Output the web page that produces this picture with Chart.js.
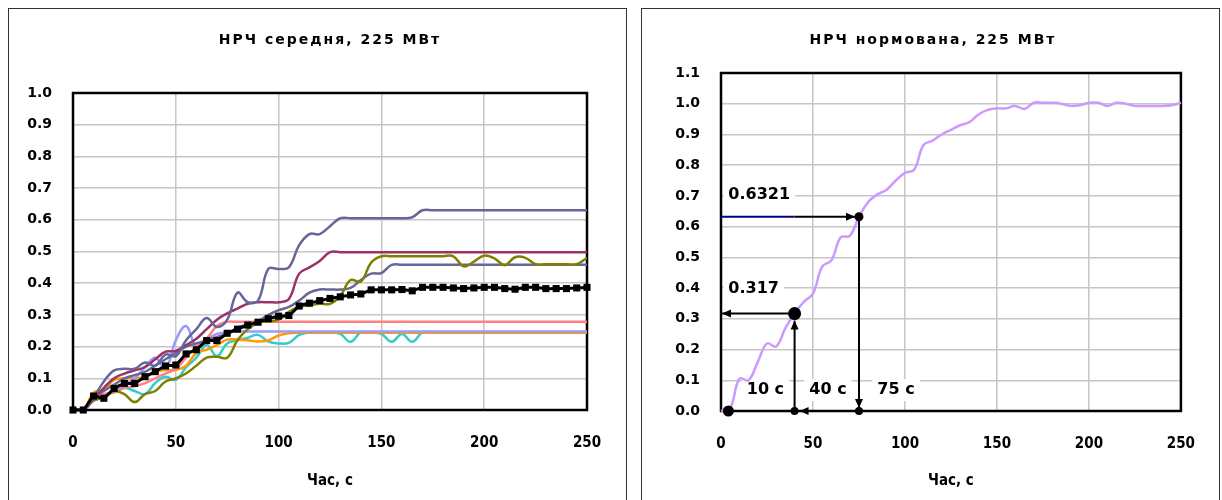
<!DOCTYPE html>
<html>
<head>
<meta charset="utf-8">
<script src="https://cdn.jsdelivr.net/npm/chart.js@4.4.1/dist/chart.umd.min.js"></script>
<style>
  html, body { margin: 0; padding: 0; background: #fff; overflow: hidden; }
  .panel { position: absolute; top: 8px; height: 520px; border: 1px solid #333; box-sizing: border-box; background: #fff; }
  #panelAvg { left: 8px; width: 619px; }
  #panelNorm { left: 641px; width: 579px; }
  canvas { position: absolute; left: 0; top: 0; }
</style>
</head>
<body>
<div class="panel" id="panelAvg"><canvas id="chartAvg" width="617" height="491"></canvas></div>
<div class="panel" id="panelNorm"><canvas id="chartNorm" width="577" height="491"></canvas></div>
<script>
// ---- time axis, s ----
const TIME_S = [0, 5, 10, 15, 20, 25, 30, 35, 40, 45, 50, 55, 60, 65, 70, 75, 80, 85, 90, 95,
  100, 105, 110, 115, 120, 125, 130, 135, 140, 145, 150, 155, 160, 165, 170, 175, 180, 185, 190, 195,
  200, 205, 210, 215, 220, 225, 230, 235, 240, 245, 250];

// ---- НРЧ середня: individual runs and their mean ----
const MEAN = [0, 0, 0.044, 0.037, 0.068, 0.084, 0.084, 0.105, 0.121, 0.139, 0.142, 0.177, 0.19, 0.219, 0.219, 0.242, 0.255, 0.268, 0.277, 0.288,
  0.296, 0.298, 0.328, 0.337, 0.345, 0.352, 0.357, 0.363, 0.366, 0.379, 0.379, 0.379, 0.38, 0.376, 0.387, 0.387, 0.387, 0.385, 0.383, 0.385,
  0.387, 0.387, 0.383, 0.381, 0.387, 0.387, 0.383, 0.383, 0.383, 0.385, 0.387];
const RUN_1 = [0, 0, 0.04, 0.09, 0.125, 0.13, 0.13, 0.15, 0.14, 0.175, 0.17, 0.22, 0.255, 0.29, 0.262, 0.285, 0.37, 0.34, 0.345, 0.445,
  0.445, 0.45, 0.52, 0.555, 0.555, 0.58, 0.605, 0.605, 0.605, 0.605, 0.605, 0.605, 0.605, 0.608, 0.63, 0.63, 0.63, 0.63, 0.63, 0.63,
  0.63, 0.63, 0.63, 0.63, 0.63, 0.63, 0.63, 0.63, 0.63, 0.63, 0.63];
const RUN_2 = [0, 0, 0.035, 0.07, 0.1, 0.115, 0.125, 0.135, 0.16, 0.184, 0.186, 0.205, 0.225, 0.255, 0.285, 0.305, 0.32, 0.335, 0.34, 0.34,
  0.34, 0.35, 0.43, 0.45, 0.47, 0.498, 0.498, 0.498, 0.498, 0.498, 0.498, 0.498, 0.498, 0.498, 0.498, 0.498, 0.498, 0.498, 0.498, 0.498,
  0.498, 0.498, 0.498, 0.498, 0.498, 0.498, 0.498, 0.498, 0.498, 0.498, 0.498];
const RUN_3 = [0, 0, 0.03, 0.04, 0.06, 0.05, 0.025, 0.05, 0.06, 0.09, 0.1, 0.115, 0.14, 0.165, 0.168, 0.165, 0.22, 0.255, 0.275, 0.28,
  0.285, 0.31, 0.325, 0.33, 0.335, 0.335, 0.36, 0.41, 0.405, 0.465, 0.485, 0.485, 0.485, 0.485, 0.485, 0.485, 0.485, 0.485, 0.453, 0.468,
  0.487, 0.478, 0.457, 0.482, 0.48, 0.46, 0.46, 0.46, 0.46, 0.46, 0.48];
const RUN_4 = [0, 0, 0.04, 0.06, 0.08, 0.1, 0.11, 0.12, 0.14, 0.16, 0.18, 0.2, 0.21, 0.22, 0.23, 0.24, 0.26, 0.27, 0.28, 0.3,
  0.315, 0.325, 0.345, 0.37, 0.38, 0.38, 0.38, 0.385, 0.41, 0.43, 0.432, 0.458, 0.458, 0.458, 0.458, 0.458, 0.458, 0.458, 0.458, 0.458,
  0.458, 0.458, 0.458, 0.458, 0.458, 0.458, 0.458, 0.458, 0.458, 0.458, 0.458];
const RUN_5 = [0, 0, 0.035, 0.05, 0.055, 0.07, 0.075, 0.085, 0.1, 0.115, 0.13, 0.165, 0.2, 0.225, 0.265, 0.278, 0.278, 0.278, 0.278, 0.278,
  0.278, 0.278, 0.278, 0.278, 0.278, 0.278, 0.278, 0.278, 0.278, 0.278, 0.278, 0.278, 0.278, 0.278, 0.278, 0.278, 0.278, 0.278, 0.278, 0.278,
  0.278, 0.278, 0.278, 0.278, 0.278, 0.278, 0.278, 0.278, 0.278, 0.278, 0.278];
const RUN_5_LAST_S = 253;   // this run was logged a few seconds longer
const RUN_6 = [0, 0, 0.03, 0.045, 0.06, 0.08, 0.1, 0.135, 0.165, 0.13, 0.22, 0.265, 0.2, 0.22, 0.24, 0.245, 0.248, 0.248, 0.248, 0.248,
  0.248, 0.248, 0.248, 0.248, 0.248, 0.248, 0.248, 0.248, 0.248, 0.248, 0.248, 0.248, 0.248, 0.248, 0.248, 0.248, 0.248, 0.248, 0.248, 0.248,
  0.248, 0.248, 0.248, 0.248, 0.248, 0.248, 0.248, 0.248, 0.248, 0.248, 0.248];
const RUN_7 = [0, 0, 0.055, 0.063, 0.095, 0.1, 0.1, 0.105, 0.12, 0.126, 0.126, 0.14, 0.18, 0.19, 0.205, 0.222, 0.222, 0.22, 0.216, 0.22,
  0.235, 0.242, 0.244, 0.244, 0.244, 0.244, 0.244, 0.244, 0.244, 0.244, 0.244, 0.244, 0.244, 0.244, 0.244, 0.244, 0.244, 0.244, 0.244, 0.244,
  0.244, 0.244, 0.244, 0.244, 0.244, 0.244, 0.244, 0.244, 0.244, 0.244, 0.244];
const RUN_8 = [0, 0, 0.03, 0.04, 0.06, 0.07, 0.06, 0.05, 0.085, 0.105, 0.095, 0.135, 0.165, 0.205, 0.17, 0.21, 0.22, 0.228, 0.237, 0.216,
  0.21, 0.212, 0.237, 0.245, 0.245, 0.245, 0.24, 0.215, 0.245, 0.245, 0.24, 0.215, 0.24, 0.215, 0.245, 0.245, 0.245, 0.245, 0.245, 0.245,
  0.245, 0.245, 0.245, 0.245, 0.245, 0.245, 0.245, 0.245, 0.245, 0.245, 0.245];

// ---- НРЧ нормована ----
const NORM = [0, 0.01, 0.105, 0.1, 0.16, 0.22, 0.21, 0.27, 0.317, 0.355, 0.382, 0.47, 0.49, 0.565, 0.57, 0.632, 0.68, 0.705, 0.72, 0.75,
  0.775, 0.785, 0.865, 0.88, 0.9, 0.915, 0.93, 0.94, 0.965, 0.98, 0.985, 0.985, 0.993, 0.983, 1.003, 1.003, 1.003, 1.0, 0.993, 0.995,
  1.003, 1.003, 0.993, 1.003, 1.0, 0.993, 0.993, 0.993, 0.993, 0.995, 1.003];

// characteristic points of the normalised response
const START_S = 4;
const TAU_S = [40, 75];
const TAU_LEVEL = [0.317, 0.6321];
const DELAY_LABEL = '10 с';

// ---- axis ticks ----
const X_TICKS = [0, 50, 100, 150, 200, 250];
const Y_TICKS_AVG = [0, 0.1, 0.2, 0.3, 0.4, 0.5, 0.6, 0.7, 0.8, 0.9, 1.0];
const Y_TICKS_NORM = [0, 0.1, 0.2, 0.3, 0.4, 0.5, 0.6, 0.7, 0.8, 0.9, 1.0, 1.1];

const TITLE_AVG = 'НРЧ середня, 225 МВт';
const TITLE_NORM = 'НРЧ нормована, 225 МВт';
const X_TITLE = 'Час, с';

// ---------------------------------------------------------------------------
const pts = (vals, times = TIME_S) => vals.map((v, i) => ({ x: times[i], y: v }));

const Y_FONT = { family: '"DejaVu Sans"', size: 14, weight: 'bold' };
const X_FONT = { family: '"DejaVu Sans Condensed", "Liberation Sans Narrow", "DejaVu Sans"', size: 15, weight: 'bold' };
const LABEL_FONT = 'bold 16px "DejaVu Sans"';

// plot-area frame, drawn over the grid
const frame = {
  id: 'frame',
  beforeDatasetsDraw(chart) {
    const { ctx, chartArea: a } = chart;
    ctx.save();
    ctx.strokeStyle = '#000';
    ctx.lineWidth = 2.5;
    ctx.strokeRect(a.left, a.top, a.right - a.left, a.bottom - a.top);
    ctx.restore();
  }
};

// spaced bold heading above the plot
const heading = {
  id: 'heading',
  afterDraw(chart, args, opts) {
    const { ctx, chartArea: a } = chart;
    ctx.save();
    ctx.font = 'bold 14px "DejaVu Sans"';
    ctx.letterSpacing = '2px';
    ctx.fillStyle = '#000';
    ctx.textAlign = 'center';
    ctx.textBaseline = 'middle';
    ctx.fillText(opts.text, (a.left + a.right) / 2 + (opts.dx || 0), opts.y);
    ctx.restore();
  }
};

function axes(yTicks, yMax, yWidth, xHeight) {
  return {
    x: {
      type: 'linear', min: 0, max: 250,
      afterBuildTicks(s) { s.ticks = X_TICKS.map(v => ({ value: v })); },
      afterFit(s) { s.height = xHeight; },
      ticks: { color: '#000', font: X_FONT, padding: 24 },
      grid: { color: '#c6c6c6', lineWidth: 1.5, drawTicks: false },
      border: { display: false },
      title: { display: true, text: X_TITLE, color: '#000', font: X_FONT, padding: { top: 0, bottom: 10 } }
    },
    y: {
      min: 0, max: yMax,
      afterBuildTicks(s) { s.ticks = yTicks.map(v => ({ value: v })); },
      afterFit(s) { s.width = yWidth; },
      ticks: { color: '#000', font: Y_FONT, padding: 21, callback: v => Number(v).toFixed(1) },
      grid: { color: '#c6c6c6', lineWidth: 1.5, drawTicks: false },
      border: { display: false }
    }
  };
}

const line = (label, data, color, extra = {}) => Object.assign({
  label, data, borderColor: color, backgroundColor: color,
  borderWidth: 2.5, pointRadius: 0, tension: 0.4, fill: false
}, extra);

// ---------------- left chart ----------------
const run5 = pts(RUN_5);
run5.push({ x: RUN_5_LAST_S, y: RUN_5[RUN_5.length - 1] });

new Chart(document.getElementById('chartAvg'), {
  type: 'line',
  data: {
    datasets: [
      line('Середнє', pts(MEAN), '#000', { borderWidth: 3, pointRadius: 5, pointBorderWidth: 0, pointStyle: 'rect', pointBackgroundColor: '#000', tension: 0.15, clip: false }),
      line('Дослід 1', pts(RUN_1), '#66669c'),
      line('Дослід 2', pts(RUN_2), '#993366'),
      line('Дослід 3', pts(RUN_3), '#808000'),
      line('Дослід 4', pts(RUN_4), '#666699'),
      line('Дослід 5', run5, '#ff8080', { clip: false }),
      line('Дослід 6', pts(RUN_6), '#9999ff'),
      line('Дослід 7', pts(RUN_7), '#ff9900'),
      line('Дослід 8', pts(RUN_8), '#33cccc')
    ]
  },
  options: {
    responsive: false, animation: false,
    layout: { padding: { top: 84, right: 39, left: 0, bottom: 0 } },
    scales: axes(Y_TICKS_AVG, 1.0, 64, 90),
    plugins: {
      legend: { display: false }, tooltip: { enabled: false },
      heading: { text: TITLE_AVG, y: 31 }
    }
  },
  plugins: [frame, heading]
});

// ---------------- right chart ----------------
function arrow(ctx, x1, y1, x2, y2, color, head) {
  ctx.strokeStyle = color;
  ctx.fillStyle = color;
  ctx.lineWidth = 2;
  ctx.beginPath(); ctx.moveTo(x1, y1); ctx.lineTo(x2, y2); ctx.stroke();
  if (!head) return;
  const ang = Math.atan2(y2 - y1, x2 - x1), L = 9, W = 4;
  ctx.beginPath();
  ctx.moveTo(x2, y2);
  ctx.lineTo(x2 - L * Math.cos(ang) + W * Math.sin(ang), y2 - L * Math.sin(ang) - W * Math.cos(ang));
  ctx.lineTo(x2 - L * Math.cos(ang) - W * Math.sin(ang), y2 - L * Math.sin(ang) + W * Math.cos(ang));
  ctx.closePath(); ctx.fill();
}

function guideLabels() {
  return [
    { text: String(TAU_LEVEL[1]), t: 4, v: 0.703 },
    { text: String(TAU_LEVEL[0]), t: 4, v: 0.397 },
    { text: DELAY_LABEL, t: 14, v: 0.068 },
    { text: TAU_S[0] + ' с', t: 48, v: 0.068 },
    { text: TAU_S[1] + ' с', t: 85, v: 0.068 }
  ];
}

const guides = {
  id: 'guides',
  beforeDatasetsDraw(chart) {
    const { ctx, scales: { x, y } } = chart;
    ctx.save();
    ctx.font = LABEL_FONT;
    ctx.fillStyle = '#fff';
    for (const l of guideLabels()) {
      const w = ctx.measureText(l.text).width;
      ctx.fillRect(x.getPixelForValue(l.t) - 5, y.getPixelForValue(l.v) - 11, w + 10, 22);
    }
    ctx.restore();
  },
  afterDatasetsDraw(chart) {
    const { ctx, scales: { x, y } } = chart;
    const X0 = x.getPixelForValue(0), Y0 = y.getPixelForValue(0);
    const XA = x.getPixelForValue(TAU_S[0]), YA = y.getPixelForValue(TAU_LEVEL[0]);
    const XB = x.getPixelForValue(TAU_S[1]), YB = y.getPixelForValue(TAU_LEVEL[1]);
    ctx.save();
    arrow(ctx, XA - 6, YA, X0 + 1, YA, '#000', true);
    arrow(ctx, XA, Y0, XA, YA + 7, '#000', true);
    arrow(ctx, X0, YB, XA, YB, '#000080', false);
    arrow(ctx, XA, YB, XB - 4, YB, '#000', true);
    arrow(ctx, XB, YB, XB, Y0 - 3, '#000', true);
    arrow(ctx, XB, Y0, XA + 5, Y0, '#000', true);
    ctx.font = LABEL_FONT;
    ctx.fillStyle = '#000';
    ctx.textAlign = 'left';
    ctx.textBaseline = 'middle';
    for (const l of guideLabels()) ctx.fillText(l.text, x.getPixelForValue(l.t), y.getPixelForValue(l.v));
    ctx.restore();
  }
};

new Chart(document.getElementById('chartNorm'), {
  type: 'line',
  data: {
    datasets: [
      {
        label: 'Точки', type: 'scatter', showLine: false, clip: false,
        data: [
          { x: START_S, y: 0 }, { x: TAU_S[0], y: 0 }, { x: TAU_S[0], y: TAU_LEVEL[0] },
          { x: TAU_S[1], y: TAU_LEVEL[1] }, { x: TAU_S[1], y: 0 }
        ],
        pointRadius: [5.5, 4, 6.5, 4.5, 4],
        pointBackgroundColor: '#000', pointBorderColor: '#000', pointBorderWidth: 0
      },
      line('НРЧ нормована', pts(NORM), '#cc99ff', { clip: false })
    ]
  },
  options: {
    responsive: false, animation: false,
    layout: { padding: { top: 64, right: 37, left: 0, bottom: 0 } },
    scales: axes(Y_TICKS_NORM, 1.1, 79, 89),
    plugins: {
      legend: { display: false }, tooltip: { enabled: false },
      heading: { text: TITLE_NORM, y: 31, dx: -18 }
    }
  },
  plugins: [guides, frame, heading]
});
</script>
</body>
</html>
